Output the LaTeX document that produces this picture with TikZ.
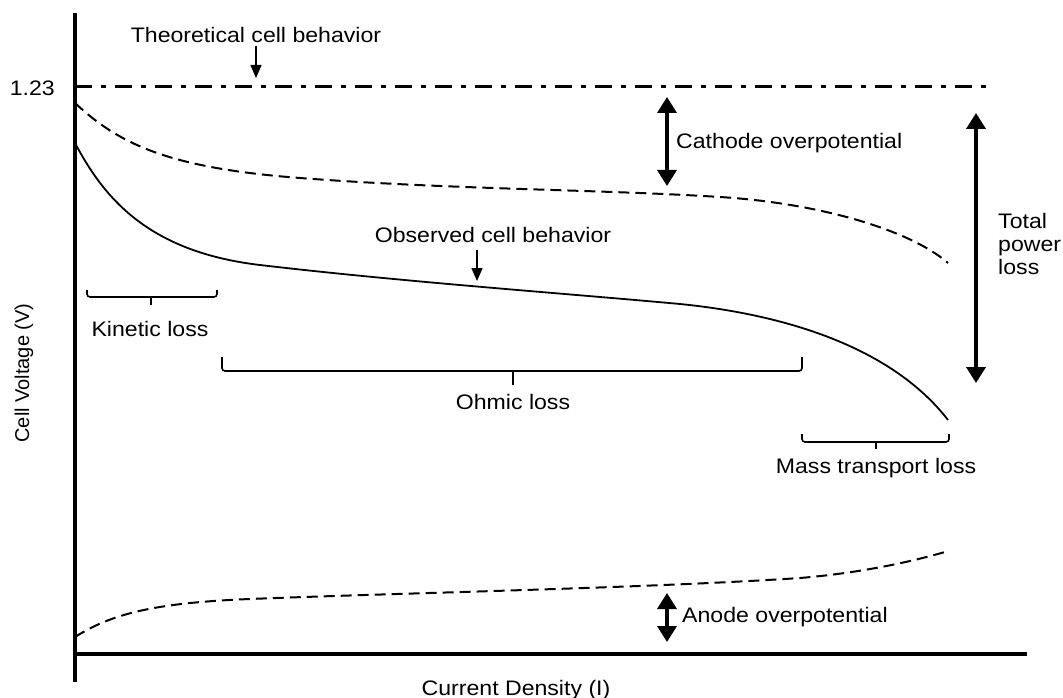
\documentclass[tikz,border=0pt]{standalone}
\usepackage{fontspec}
\setmainfont{Liberation Sans}
\usetikzlibrary{arrows.meta}
\begin{document}
\begin{tikzpicture}[x=1pt,y=-1pt,
  lbl/.style={inner sep=0pt,font=\fontsize{21pt}{23pt}\selectfont,xscale=1.1},
  axisline/.style={line width=4.2pt},
  dashcurve/.style={line width=2pt,dash pattern=on 11pt off 6pt},
  bigarrow/.style={line width=3.5pt,{Triangle[width=19pt,length=16pt]}-{Triangle[width=19pt,length=16pt]}},
  smallarrow/.style={line width=1.5pt,-{Triangle[width=11pt,length=13pt]}},
  bracepath/.style={line width=1.6pt,rounded corners=3pt}]
\useasboundingbox (0,0) rectangle (1063,698);
% axes
\coordinate (ytop) at (75,13);
\coordinate (ybot) at (75,682);
\coordinate (xl) at (73,654);
\coordinate (xr) at (1027,654);
\draw[axisline] (ytop) -- (ybot);
\draw[axisline] (xl) -- (xr);
% theoretical line
\coordinate (th0) at (75,87);
\coordinate (th1) at (993,87);
\draw[line width=3pt,dash pattern=on 17pt off 9pt on 5pt off 9pt] (th0) -- (th1);
\node[lbl,anchor=east] (v123) at (55,88) {1.23};
% labels
\node[lbl] (theo) at (256,35) {Theoretical cell behavior};
\coordinate (theoTip) at (256,78);
\draw[smallarrow] (256,46) -- (theoTip);
\node[lbl] (obs) at (493,235) {Observed cell behavior};
\coordinate (obsTip) at (477,281);
\draw[smallarrow] (477,250) -- (obsTip);
% cathode curve
\draw[dashcurve] (75,103) .. controls (120,145) and (170,168) .. (300,178)
  .. controls (450,189.5) and (600,189.4) .. (720,197)
  .. controls (820,203.3) and (910,230) .. (948,263);
% observed curve
\draw[line width=1.8pt] (75,143) .. controls (105,200) and (150,252) .. (260,265)
  .. controls (400,281.5) and (560,293) .. (680,304)
  .. controls (780,314) and (890,345) .. (948,420);
% anode curve
\draw[dashcurve] (75,637) .. controls (110,615) and (150,603) .. (250,599)
  .. controls (400,593) and (650,588) .. (800,578)
  .. controls (860,573) and (910,562) .. (945,552);
% arrows
\coordinate (cat0) at (667,97);
\coordinate (cat1) at (667,186);
\draw[bigarrow] (cat0) -- (cat1);
\node[lbl,anchor=west] (cat) at (676,143) {Cathode overpotential};
\coordinate (tot0) at (976,113);
\coordinate (tot1) at (976,383);
\draw[bigarrow] (tot0) -- (tot1);
\node[lbl,anchor=west,align=left] (tot) at (998,244) {Total\\power\\loss};
\coordinate (an0) at (667,593);
\coordinate (an1) at (667,642);
\draw[bigarrow] (an0) -- (an1);
\node[lbl,anchor=west] (an) at (682,617) {Anode overpotential};
% braces
\draw[bracepath] (87,290) |- (217,297) -- (217,290);
\draw[line width=1.6pt] (151,297) -- (151,305);
\node[lbl] (kin) at (150,329) {Kinetic loss};
\draw[bracepath] (222,357) |- (802,371) -- (802,357);
\draw[line width=1.6pt] (513,371) -- (513,385);
\node[lbl] (ohm) at (513,402) {Ohmic loss};
\draw[bracepath] (802,434) |- (949,442) -- (949,434);
\draw[line width=1.6pt] (876,442) -- (876,449);
\node[lbl] (mass) at (876,468) {Mass transport loss};
% axis labels
\node[lbl] (xlab) at (516,690) {Current Density (I)};
\node[inner sep=0pt,font=\fontsize{20pt}{23pt}\selectfont,rotate=90] (ylab) at (24,373) {Cell Voltage (V)};
\end{tikzpicture}
\end{document}
